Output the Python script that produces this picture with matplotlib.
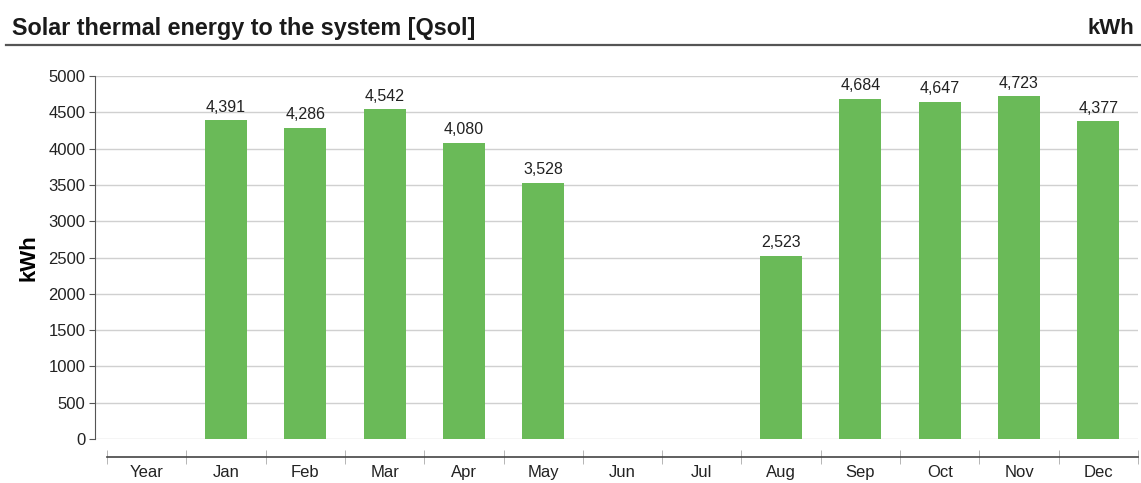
import numpy as np
import matplotlib
matplotlib.use("Agg")
import matplotlib.pyplot as plt

# chart data
categories = ["Year", "Jan", "Feb", "Mar", "Apr", "May", "Jun",
              "Jul", "Aug", "Sep", "Oct", "Nov", "Dec"]
qsol = [np.nan, 4391, 4286, 4542, 4080, 3528, np.nan,
        np.nan, 2523, 4684, 4647, 4723, 4377]
yticks = list(range(0, 5001, 500))

plt.rcParams['font.family'] = ['Liberation Sans', 'DejaVu Sans']

W, H = 1141, 483
fig = plt.figure(figsize=(W / 100, H / 100), dpi=100)

# axes in pixel coords: left 95, right 1138, top 76, bottom 439
left, right, top, bottom = 95, 1138, 76, 439
ax = fig.add_axes([left / W, 1 - bottom / H, (right - left) / W, (bottom - top) / H])

x = np.arange(len(categories))
vals = np.array(qsol, dtype=float)
mask = ~np.isnan(vals)
ax.bar(x[mask], vals[mask], width=0.53, color='#6aba58', zorder=3)
for xi, v in zip(x[mask], vals[mask]):
    ax.annotate(f"{int(v):,}", (xi, v), xytext=(0, 4), textcoords='offset points',
                ha='center', va='bottom', fontsize=11.5, color='#222222')

# category width in pixels -> extra space left of the first category
cat_px = (right - 107) / len(categories)
ax.set_xlim(-0.5 - (107 - left) / cat_px, len(categories) - 0.5)
ax.set_ylim(0, 5000)

ax.set_yticks(yticks)
ax.yaxis.grid(True, color='#d0d0d0', linewidth=1, zorder=0)
ax.tick_params(axis='y', direction='out', length=4, color='#555555',
               labelsize=12, labelcolor='#222222', pad=3)

for s in ['top', 'right']:
    ax.spines[s].set_visible(False)
ax.spines['left'].set_color('#555555')
ax.spines['left'].set_bounds(0, 5000)

# category axis below the plot
ax.spines['bottom'].set_position(('outward', 13))
ax.spines['bottom'].set_bounds(-0.5, len(categories) - 0.5)
ax.spines['bottom'].set_color('#444444')
ax.spines['bottom'].set_linewidth(1.2)
ax.set_xticks(x)
ax.set_xticklabels(categories)
ax.set_xticks(np.arange(-0.5, len(categories)), minor=True)
ax.tick_params(axis='x', which='major', length=0, labelsize=12,
               labelcolor='#222222', pad=6)
ax.tick_params(axis='x', which='minor', direction='inout', length=10,
               color='#aaaaaa')

ax.set_ylabel("kWh", fontsize=16, fontweight='bold', labelpad=6)

# header
fig.text(12 / W, 1 - 29 / H, "Solar thermal energy to the system [Qsol]",
         fontsize=16.8, fontweight='bold', ha='left', va='center', color='#1a1a1a')
fig.text(1134 / W, 1 - 29 / H, "kWh", fontsize=16, fontweight='bold',
         ha='right', va='center', color='#1a1a1a')
fig.add_artist(plt.Line2D([6 / W, 1], [1 - 45 / H] * 2, color='#555555',
                          linewidth=1.6, transform=fig.transFigure))

fig.savefig("out.png", dpi=100, facecolor='white')
